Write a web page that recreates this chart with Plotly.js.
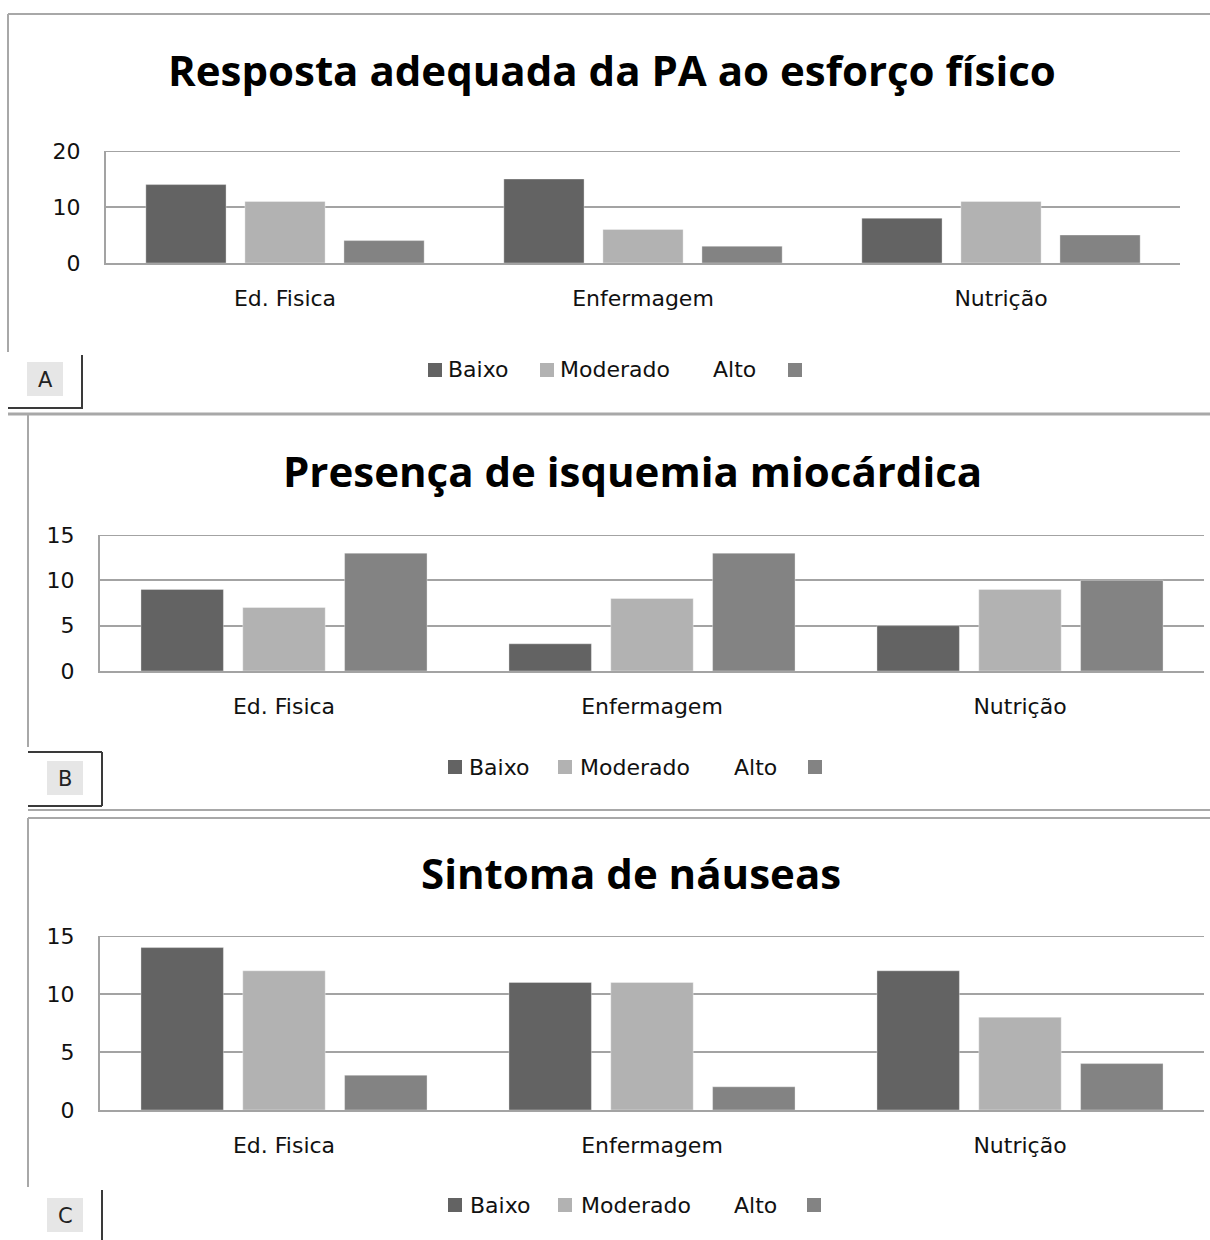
<!DOCTYPE html>
<html>
<head>
<meta charset="utf-8">
<script src="https://cdn.plot.ly/plotly-3.0.1.min.js"></script>
<style>html,body{margin:0;padding:0;background:#fff;}#chart{width:1210px;height:1240px;}</style>
</head>
<body>
<div id="chart"></div>
<script>
// ---- data ----
const categories = ['Ed. Fisica', 'Enfermagem', 'Nutrição'];
const seriesNames = ['Baixo', 'Moderado', 'Alto'];
const titleA = 'Resposta adequada da PA ao esforço físico';
const titleB = 'Presença de isquemia miocárdica';
const titleC = 'Sintoma de náuseas';
const baixoA = [14, 15, 8];
const moderadoA = [11, 6, 11];
const altoA = [4, 3, 5];
const baixoB = [9, 3, 5];
const moderadoB = [7, 8, 9];
const altoB = [13, 13, 10];
const baixoC = [14, 11, 12];
const moderadoC = [12, 11, 8];
const altoC = [3, 2, 4];
const ticksA = [0, 10, 20];
const ticksB = [0, 5, 10, 15];
const ticksC = [0, 5, 10, 15];
const panelLabels = ['A', 'B', 'C'];

// ---- style ----
const W = 1210, H = 1240;
const colors = ['#636363', '#b2b2b2', '#838383'];
const gridCol = '#a3a3a3';
const px = x => x / W;
const py = y => 1 - y / H;
const tickFont = {family: 'DejaVu Sans', size: 22, color: '#111'};

const traces = [];
const panels = [
  {vals: [baixoA, moderadoA, altoA], ax: '', top: ticksA[ticksA.length - 1]},
  {vals: [baixoB, moderadoB, altoB], ax: '2', top: ticksB[ticksB.length - 1]},
  {vals: [baixoC, moderadoC, altoC], ax: '3', top: ticksC[ticksC.length - 1]}
];
panels.forEach(p => {
  p.vals.forEach((v, i) => {
    traces.push({
      type: 'bar', x: categories, y: v, name: seriesNames[i],
      xaxis: 'x' + p.ax, yaxis: 'y' + p.ax,
      marker: {color: colors[i], line: {color: 'rgba(255,255,255,0.35)', width: 1}},
      showlegend: false
    });
  });
});

function xa(dom, anchor) {
  return {domain: dom, anchor: anchor, showline: true, linecolor: gridCol, linewidth: 2,
    showgrid: false, zeroline: false, ticks: 'outside', ticklen: 15, tickcolor: 'rgba(0,0,0,0)',
    tickfont: tickFont, fixedrange: true};
}
function ya(dom, anchor, rng, tv) {
  return {domain: dom, anchor: anchor, range: rng, tickvals: tv, ticktext: tv.map(String),
    showline: true, linecolor: gridCol, linewidth: 2, showgrid: true, gridcolor: gridCol, gridwidth: 2,
    zeroline: false, ticks: 'outside', ticklen: 19, tickcolor: 'rgba(0,0,0,0)',
    tickfont: tickFont, fixedrange: true};
}

const shapes = [];
const annotations = [];
// top gridline of each plot area (at the axis maximum)
panels.forEach(p => {
  shapes.push({type: 'line', xref: 'x' + p.ax + ' domain', yref: 'y' + p.ax, x0: 0, x1: 1, y0: p.top, y1: p.top,
    line: {color: gridCol, width: 2}, layer: 'below'});
});
function line(x0, y0, x1, y1, color, w) {
  shapes.push({type: 'line', xref: 'paper', yref: 'paper', x0: px(x0), y0: py(y0), x1: px(x1), y1: py(y1),
    line: {color: color, width: w}});
}
function rect(x0, y0, x1, y1, fill) {
  shapes.push({type: 'rect', xref: 'paper', yref: 'paper', x0: px(x0), y0: py(y0), x1: px(x1), y1: py(y1),
    fillcolor: fill, line: {width: 0}});
}
function text(t, x, y, font, anchor) {
  annotations.push({text: t, xref: 'paper', yref: 'paper', x: px(x), y: py(y), xanchor: anchor || 'left',
    yanchor: 'middle', showarrow: false, font: font});
}

// frames
const frameCol = '#a8a8a8', boxCol = '#3a3a3a';
// panel A
line(8, 14, 1210, 14, frameCol, 2);
line(8, 14, 8, 352, frameCol, 2);
line(82, 355, 82, 409, boxCol, 2);
line(8, 408, 82, 408, boxCol, 2);
line(8, 414, 1210, 414, frameCol, 3);
// panel B
line(28, 415, 28, 747, frameCol, 2);
line(28, 752, 102, 752, boxCol, 2);
line(102, 752, 102, 806, boxCol, 2);
line(28, 806, 102, 806, boxCol, 2);
line(28, 810, 1210, 810, frameCol, 2);
// panel C
line(28, 818, 1210, 818, frameCol, 2);
line(28, 818, 28, 1187, frameCol, 2);
line(102, 1190, 102, 1240, boxCol, 2);

// label boxes
const labelPos = [[27, 362, 63, 396], [47, 761, 83, 795], [47, 1198, 83, 1232]];
labelPos.forEach((b, i) => {
  rect(b[0], b[1], b[2], b[3], '#e6e6e6');
  text(panelLabels[i], (b[0] + b[2]) / 2, (b[1] + b[3]) / 2 + 1, {family: 'DejaVu Sans', size: 21, color: '#222'}, 'center');
});

// titles
const titleFont = {family: 'Open Sans', size: 42, color: '#000', weight: 700};
text('<b>' + titleA + '</b>', 612, 70, titleFont, 'center');
text('<b>' + titleB + '</b>', 632, 470, titleFont, 'center');
text('<b>' + titleC + '</b>', 631, 872, titleFont, 'center');

// legends (as drawn in the original: swatch, label ... label, swatch)
const legFont = {family: 'DejaVu Sans', size: 22, color: '#111'};
const legends = [
  {y: 370, sw: [428, 540, 788], tx: [446, 558, 711]},
  {y: 767, sw: [448, 558, 808], tx: [467, 578, 732]},
  {y: 1205, sw: [448, 558, 807], tx: [468, 579, 732]}
];
legends.forEach(L => {
  L.sw.forEach((x, i) => rect(x, L.y - 7, x + 14, L.y + 7, colors[i]));
  seriesNames.forEach((n, i) => text(n, L.tx[i], L.y, legFont, 'left'));
});

const layout = {
  width: W, height: H, margin: {l: 0, r: 0, t: 0, b: 0},
  paper_bgcolor: '#fff', plot_bgcolor: '#fff',
  barmode: 'group', bargap: 0.17, bargroupgap: 0.19,
  showlegend: false, hovermode: false,
  xaxis: xa([px(106), px(1180)], 'y'),
  yaxis: ya([py(263), py(151)], 'x', [0, 20], ticksA),
  xaxis2: xa([px(100), px(1204)], 'y2'),
  yaxis2: ya([py(671), py(535)], 'x2', [0, 15], ticksB),
  xaxis3: xa([px(100), px(1204)], 'y3'),
  yaxis3: ya([py(1110), py(936)], 'x3', [0, 15], ticksC),
  shapes: shapes, annotations: annotations
};
Plotly.newPlot('chart', traces, layout, {staticPlot: true, displayModeBar: false});
</script>
</body>
</html>
